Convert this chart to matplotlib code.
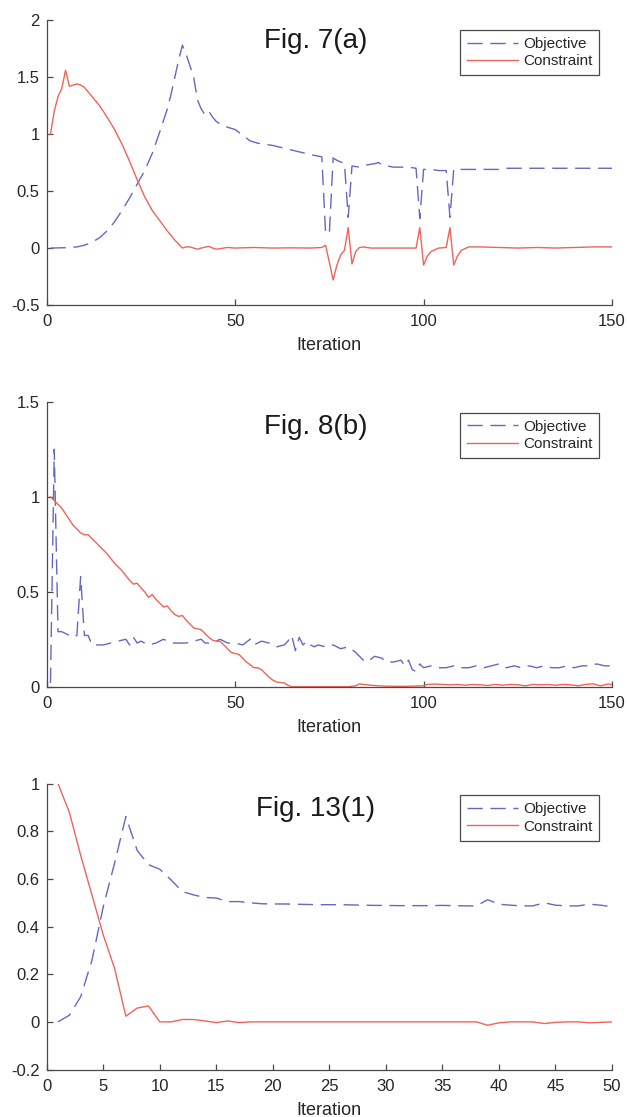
import matplotlib
matplotlib.use('Agg')
import matplotlib.pyplot as plt
from matplotlib.ticker import FuncFormatter

plt.rcParams['font.family'] = ['Liberation Sans', 'DejaVu Sans']
plt.rcParams['axes.unicode_minus'] = False

## Fig. 7(a)
it7_obj = [1, 5, 8, 10, 12, 14, 16, 18, 20, 22, 24, 26, 28, 30, 32, 33, 34, 35, 36, 37, 38, 39, 40,
           41, 42, 43, 44, 45, 47, 49, 50, 52, 54, 56, 60, 65, 70, 73, 74, 75, 76, 77, 79, 80, 81,
           83, 85, 87, 88, 89, 92, 96, 98, 99, 100, 102, 104, 106, 107, 108, 112, 120, 122, 130,
           140, 150]
obj7 = [0.0, 0.003, 0.01, 0.025, 0.05, 0.09, 0.15, 0.23, 0.33, 0.44, 0.56, 0.68, 0.83, 1.02, 1.22,
        1.35, 1.5, 1.65, 1.78, 1.7, 1.6, 1.5, 1.3, 1.22, 1.17, 1.2, 1.15, 1.11, 1.07, 1.05, 1.04,
        0.99, 0.94, 0.92, 0.9, 0.86, 0.82, 0.8, 0.13, 0.13, 0.79, 0.77, 0.74, 0.27, 0.72, 0.71,
        0.73, 0.74, 0.75, 0.73, 0.71, 0.71, 0.7, 0.26, 0.69, 0.69, 0.68, 0.68, 0.27, 0.69, 0.69,
        0.69, 0.7, 0.7, 0.7, 0.7]
it7_con = [1, 2, 3, 4, 5, 6, 7, 8, 9, 10, 11, 12, 14, 16, 18, 20, 22, 24, 26, 28, 30, 32, 34, 36,
           37, 38, 39, 40, 41, 43, 44, 45, 47, 48, 50, 55, 60, 65, 70, 73, 74, 76, 77, 78, 79, 80,
           81, 82, 83, 84, 86, 90, 95, 98, 99, 100, 101, 102, 104, 106, 107, 108, 109, 110, 112,
           115, 120, 125, 130, 135, 140, 145, 150]
con7 = [1.0, 1.2, 1.33, 1.4, 1.56, 1.42, 1.43, 1.44, 1.43, 1.41, 1.37, 1.33, 1.25, 1.15, 1.04,
        0.91, 0.76, 0.6, 0.45, 0.33, 0.24, 0.15, 0.07, 0.0, 0.01, 0.01, 0.0, -0.01, 0.0, 0.015,
        0.0, -0.01, 0.0, 0.005, 0.0, 0.005, 0.0, 0.002, 0.0, 0.005, 0.025, -0.28, -0.15, -0.06,
        -0.02, 0.18, -0.14, -0.03, 0.005, 0.01, 0.0, 0.0, 0.0, 0.0, 0.18, -0.15, -0.07, -0.03,
        0.0, 0.005, 0.18, -0.15, -0.07, -0.02, 0.01, 0.01, 0.005, 0.0, 0.005, 0.0, 0.005, 0.01,
        0.01]

## Fig. 8(b)
it8_obj = [1, 2, 3, 4, 5, 6, 7, 8, 9, 10, 11, 12, 13, 15, 17, 19, 21, 22, 23, 24, 25, 27, 29, 31,
           33, 35, 37, 39, 41, 42, 44, 46, 48, 50, 52, 54, 55, 57, 59, 61, 63, 64, 65, 66, 67, 68,
           69, 70, 71, 72, 74, 76, 78, 80, 82, 84, 85, 87, 89, 90, 92, 94, 95, 96, 97, 98, 99,
           100, 102, 104, 106, 108, 110, 112, 114, 116, 118, 120, 122, 124, 126, 128, 130, 132,
           134, 136, 138, 140, 142, 144, 146, 148, 150]
obj8 = [0.02, 1.25, 0.29, 0.29, 0.28, 0.27, 0.26, 0.27, 0.58, 0.27, 0.27, 0.22, 0.22, 0.22, 0.23,
        0.24, 0.25, 0.22, 0.26, 0.23, 0.24, 0.22, 0.23, 0.25, 0.23, 0.23, 0.23, 0.24, 0.25, 0.23,
        0.23, 0.25, 0.23, 0.23, 0.22, 0.25, 0.22, 0.24, 0.23, 0.21, 0.22, 0.24, 0.27, 0.19, 0.26,
        0.22, 0.24, 0.22, 0.21, 0.22, 0.21, 0.22, 0.2, 0.21, 0.18, 0.14, 0.13, 0.16, 0.15, 0.13,
        0.13, 0.14, 0.11, 0.14, 0.09, 0.08, 0.12, 0.1, 0.11, 0.1, 0.1, 0.11, 0.1, 0.1, 0.11, 0.1,
        0.11, 0.12, 0.1, 0.11, 0.1, 0.11, 0.1, 0.11, 0.1, 0.1, 0.11, 0.1, 0.11, 0.11, 0.12, 0.11,
        0.11]
it8_con = [1, 2, 3, 4, 5, 6, 7, 8, 9, 10, 11, 12, 14, 16, 18, 20, 22, 23, 24, 25, 26, 27, 28, 29,
           30, 31, 32, 33, 34, 35, 36, 37, 38, 39, 40, 41, 42, 43, 44, 45, 46, 47, 48, 49, 50, 51,
           52, 53, 54, 55, 56, 57, 58, 59, 60, 61, 62, 63, 64, 65, 66, 70, 75, 80, 82, 83, 84, 86,
           88, 90, 95, 100, 101, 103, 105, 107, 109, 111, 113, 115, 117, 119, 121, 123, 125, 127,
           129, 131, 133, 135, 137, 139, 141, 143, 145, 147, 149, 150]
con8 = [1.0, 0.98, 0.96, 0.94, 0.91, 0.88, 0.85, 0.83, 0.81, 0.8, 0.8, 0.78, 0.74, 0.7, 0.65,
        0.61, 0.56, 0.54, 0.545, 0.52, 0.5, 0.47, 0.485, 0.46, 0.44, 0.42, 0.425, 0.4, 0.38, 0.37,
        0.375, 0.35, 0.33, 0.31, 0.305, 0.3, 0.28, 0.26, 0.245, 0.24, 0.24, 0.22, 0.2, 0.18,
        0.175, 0.17, 0.15, 0.13, 0.115, 0.1, 0.1, 0.09, 0.07, 0.05, 0.035, 0.025, 0.022, 0.02,
        0.008, 0.0, 0.0, 0.0, 0.0, 0.0, 0.005, 0.015, 0.012, 0.008, 0.005, 0.003, 0.002, 0.005,
        0.012, 0.014, 0.012, 0.01, 0.012, 0.008, 0.012, 0.01, 0.006, 0.012, 0.008, 0.012, 0.01,
        0.005, 0.012, 0.01, 0.012, 0.008, 0.012, 0.01, 0.005, 0.012, 0.015, 0.005, 0.015, 0.01]

## Fig. 13(1)
it13 = list(range(1, 51))
obj13 = [0.0, 0.028, 0.105, 0.259, 0.483, 0.666, 0.862, 0.72, 0.66, 0.641, 0.596, 0.547, 0.533,
         0.522, 0.52, 0.505, 0.505, 0.5, 0.496, 0.495, 0.495, 0.494, 0.493, 0.492, 0.492, 0.492,
         0.491, 0.49, 0.489, 0.489, 0.488, 0.488, 0.488, 0.488, 0.489, 0.488, 0.487, 0.487, 0.513,
         0.494, 0.49, 0.487, 0.487, 0.5, 0.49, 0.487, 0.487, 0.494, 0.49, 0.483]
con13 = [1.0, 0.88, 0.7, 0.533, 0.365, 0.225, 0.024, 0.058, 0.067, 0.0, 0.0, 0.01, 0.01, 0.004,
         -0.003, 0.004, -0.003, 0.0, 0.0, 0.0, 0.0, 0.0, 0.0, 0.0, 0.0, 0.0, 0.0, 0.0, 0.0, 0.0,
         0.0, 0.0, 0.0, 0.0, 0.0, 0.0, 0.0, 0.0, -0.014, -0.004, 0.0, 0.0, 0.0, -0.007, -0.002,
         0.0, 0.0, -0.004, -0.002, 0.0]

titles = ['Fig. 7(a)', 'Fig. 8(b)', 'Fig. 13(1)']

blue = '#6468c2'
red = '#ef6459'
axcol = '#4a4a4a'

fig = plt.figure(figsize=(6.27, 11.17), dpi=100)

panels = [
    ([0.0745, 0.7269, 0.9016, 0.2551], it7_obj, obj7, it7_con, con7, (0, 150), (-0.5, 2),
     [0, 50, 100, 150], [-0.5, 0, 0.5, 1, 1.5, 2], 0.926, 0.965),
    ([0.0745, 0.3852, 0.9016, 0.2551], it8_obj, obj8, it8_con, con8, (0, 150), (0, 1.5),
     [0, 50, 100, 150], [0, 0.5, 1, 1.5], 0.910, 0.961),
    ([0.0745, 0.0425, 0.9016, 0.2559], it13, obj13, it13, con13, (0, 50), (-0.2, 1),
     list(range(0, 51, 5)), [-0.2, 0, 0.2, 0.4, 0.6, 0.8, 1], 0.913, 0.959),
]

fmt = FuncFormatter(lambda v, p: '%g' % round(v, 3))

for i, (pos, xo, yo, xc, yc, xl, yl, xt, yt, ty, ly) in enumerate(panels):
    ax = fig.add_axes(pos)
    ax.plot(xo, yo, color=blue, lw=1.0, dashes=(11, 5.5), label='Objective')
    ax.plot(xc, yc, color=red, lw=1.0, label='Constraint')
    ax.set_xlim(*xl)
    ax.set_ylim(*yl)
    ax.set_xticks(xt)
    ax.set_yticks(yt)
    ax.xaxis.set_major_formatter(fmt)
    ax.yaxis.set_major_formatter(fmt)
    for s in ['top', 'right']:
        ax.spines[s].set_visible(False)
    for s in ['left', 'bottom']:
        ax.spines[s].set_color(axcol)
        ax.spines[s].set_linewidth(0.9)
    ax.tick_params(direction='in', length=4, width=0.9, color=axcol,
                   labelsize=12, labelcolor='#262626')
    ax.tick_params(axis='x', pad=6.5)
    ax.tick_params(axis='y', pad=5)
    ax.set_xlabel('Iteration', fontsize=13, color='#262626')
    ax.xaxis.set_label_coords(0.5, -0.112)
    ax.text(0.476, ty, titles[i], transform=ax.transAxes, ha='center', va='center',
            fontsize=20, color='#1a1a1a')
    leg = ax.legend(loc='upper right', bbox_to_anchor=(0.9775, ly), borderaxespad=0,
                    fontsize=11, handlelength=3.3, handletextpad=0.35, labelspacing=0.22,
                    borderpad=0.45, fancybox=False, framealpha=1, edgecolor=axcol)
    leg.get_frame().set_linewidth(0.9)
    for t in leg.get_texts():
        t.set_color('#262626')

fig.savefig('out.png', dpi=100)
